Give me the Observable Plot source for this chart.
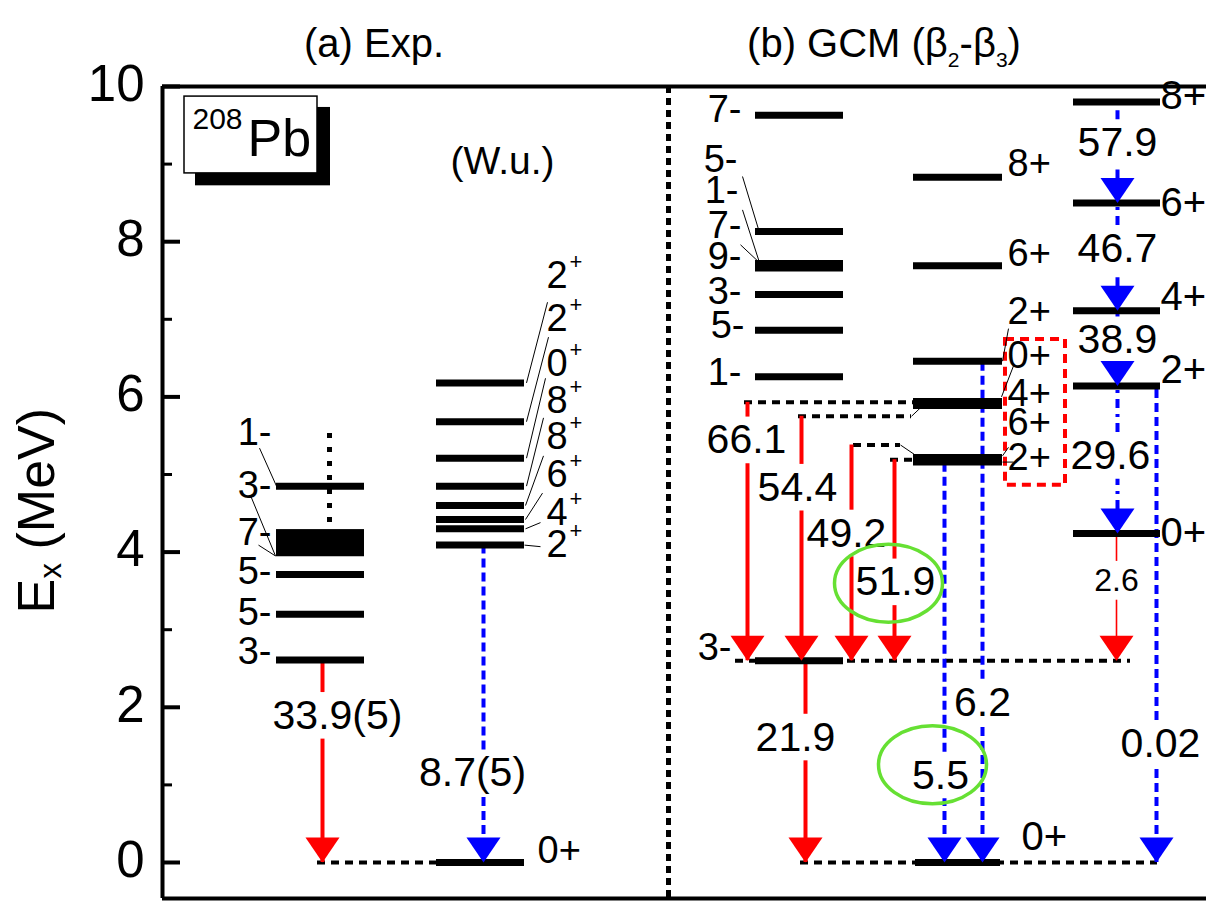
<!DOCTYPE html>
<html><head><meta charset="utf-8">
<script src="https://cdn.jsdelivr.net/npm/d3@7"></script>
<script src="https://cdn.jsdelivr.net/npm/@observablehq/plot@0.6"></script>
<style>
body{margin:0;background:#fff;font-family:"Liberation Sans",Arial,sans-serif;}
#head{position:relative;width:1206px;height:60px;}
.t{position:absolute;top:23px;font-size:40px;line-height:40px;white-space:nowrap;transform:translateX(-50%);color:#000;}
.t sub{font-size:21px;vertical-align:-10px;line-height:0;}
</style></head><body>
<div id="head">
<div class="t" style="left:374px">(a) Exp.</div>
<div class="t" style="left:884px">(b) GCM (β<sub>2</sub>-β<sub>3</sub>)</div>
</div>
<div id="chart"></div>
<script>
// ---------- data ----------
const yMajor = [0, 2, 4, 6, 8, 10];
const yMinor = [1, 3, 5, 7, 9];

// (a) Exp. : negative-parity column
const expNegE = [4.85, 3.71, 3.20, 2.61];
const expNegBand = [[3.94, 4.29]];
const expNegJ = ["1-", "3-", "7-", "5-", "5-", "3-"];
// (a) Exp. : positive-parity column
const expPosE = [6.18, 5.68, 5.21, 4.85, 4.60, 4.42, 4.30, 4.09];
const expPosJ = ["2", "2", "0", "8", "8", "6", "4", "2"];
const expGroundE = [0];
const expGroundJ = ["0+"];

// (b) GCM
const gcmNegE = [9.63, 8.13, 7.72, 7.66, 7.32, 6.86, 6.26, 2.60];
const gcmNegJ = ["7-", "5-", "1-", "7-", "9-", "3-", "5-", "1-", "3-"];
const gcmMidE = [8.83, 7.69, 6.46, 5.94, 5.89, 5.22, 5.16];
const gcmMidJ = ["8+", "6+", "2+", "0+", "4+", "6+", "2+"];
const gcmRightE = [9.80, 8.50, 7.11, 6.14, 4.24];
const gcmRightJ = ["8+", "6+", "4+", "2+", "0+"];
const gcmGroundE = [0];
const gcmGroundJ = ["0+"];

// transitions (B(E3) / B(E2) in W.u.)
const trFrom  = [2.61, 4.09, 5.93, 5.75, 5.38, 5.19, 2.60, 4.24, 5.19, 6.46, 6.14, 9.80, 8.50, 7.11, 6.14];
const trTo    = [0, 0, 2.60, 2.60, 2.60, 2.60, 0, 2.60, 0, 0, 0, 8.50, 7.11, 6.14, 4.24];
const trValue = ["33.9(5)", "8.7(5)", "66.1", "54.4", "49.2", "51.9", "21.9", "2.6", "5.5", "6.2", "0.02", "57.9", "46.7", "38.9", "29.6"];
const trStyle = ["E3", "E2", "E3", "E3", "E3", "E3", "E3", "E3thin", "E2", "E2", "E2", "E2dd", "E2dd", "E2dd", "E2dd"];

// ---------- layout ----------
const Y_MIN = -0.464, Y_MAX = 10;
const AXIS_X = 162, RIGHT_X = 1206, DIVIDER_X = 668;
const col = {
  expNeg: [276, 364], expPos: [436, 524],
  gcmNeg: [755, 843], gcmMid: [913, 1002], gcmRight: [1073, 1160], gcmGround: [915, 1000]
};
const expNegLabelE = [5.54, 4.86, 4.25, 3.75, 3.22, 2.72];
const expPosLabelE = [7.56, 7.01, 6.43, 5.95, 5.48, 4.99, 4.50, 4.09];
const gcmNegLabelE = [9.70, 9.05, 8.66, 8.21, 7.80, 7.36, 6.91, 6.31, 2.77];
const gcmNegLabelX = [741, 737, 738, 741, 741, 741, 744, 741, 731];
const gcmMidLabelE = [9.0, 7.85, 7.09, 6.53, 6.04, 5.66, 5.21];
const gcmRightLabelE = [9.87, 8.49, 7.28, 6.35, 4.24];
const trX  = [322, 483, 747, 801, 851, 894, 805, 1116, 944, 982, 1156, 1117, 1117, 1117, 1117];
const trLX = [337, 472, 746, 797, 846, 895, 795, 1116, 940, 982, 1160, 1117, 1117, 1117, 1110];
const trLE = [1.89, 1.15, 5.44, 4.83, 4.24, 3.61, 1.61, 3.63, 1.12, 2.06, 1.53, 9.27, 7.91, 6.73, 5.24];
const dashH = [
  {e: 0, x1: 317, x2: 437}, {e: 2.60, x1: 735, x2: 1130}, {e: 0, x1: 800, x2: 1157},
  {e: 5.93, x1: 744, x2: 913}, {e: 5.75, x1: 798, x2: 911}, {e: 5.38, x1: 853, x2: 900},
  {e: 5.19, x1: 890, x2: 913}
];
const leaders = [
  [259, 5.34, 276, 4.85], [250, 4.73, 275, 3.95], [258, 4.09, 275, 3.95],
  [526, 6.18, 547, 7.22], [526, 5.68, 548, 6.77], [526, 5.21, 545, 6.24], [526, 4.85, 543, 5.73],
  [525, 4.60, 543, 5.24], [525, 4.42, 542, 4.76], [525, 4.30, 540, 4.38], [524, 4.09, 540, 4.07],
  [742, 8.84, 758, 8.16], [742, 8.41, 759, 7.73], [740, 7.96, 759, 7.73],
  [1008, 6.88, 1002, 6.46], [1013, 6.40, 1001, 6.00], [1008, 5.35, 1002, 5.24], [1002, 5.16, 1013, 5.16],
  [911, 5.75, 920, 5.86], [900, 5.38, 916, 5.24]
];
const redBox = [{x1: 1005, x2: 1065, y1: 4.86, y2: 6.74}];
const circles = [{x: 888, e: 3.60}, {x: 932, e: 1.26}];

const styles = {
  E3: {stroke: "#ff0000", strokeWidth: 4},
  E3thin: {stroke: "#ff0000", strokeWidth: 1.6},
  E2: {stroke: "#0000ff", strokeWidth: 4, strokeDasharray: "9,5"},
  E2dd: {stroke: "#0000ff", strokeWidth: 4, strokeDasharray: "9,6,3,6"}
};

// ---------- derived ----------
const trIdx = d3.range(trValue.length);
const segs = [];
for (const i of trIdx) {
  const gap = trStyle[i] === "E3thin" ? 0.25 : 0.3;
  const top = trLE[i] + gap, bot = trLE[i] - gap;
  if (trFrom[i] > top) segs.push({x: trX[i], y1: top, y2: trFrom[i], s: trStyle[i]});
  if (bot > trTo[i]) segs.push({x: trX[i], y1: trTo[i], y2: bot, s: trStyle[i]});
}
const arrowSym = {draw(ctx) { ctx.moveTo(-17, -25); ctx.lineTo(17, -25); ctx.lineTo(0, 0); ctx.closePath(); }};
const ellipseSym = {draw(ctx) {
  const rx = 54, ry = 39, k = 0.5523;
  ctx.moveTo(rx, 0);
  ctx.bezierCurveTo(rx, ry * k, rx * k, ry, 0, ry);
  ctx.bezierCurveTo(-rx * k, ry, -rx, ry * k, -rx, 0);
  ctx.bezierCurveTo(-rx, -ry * k, -rx * k, -ry, 0, -ry);
  ctx.bezierCurveTo(rx * k, -ry, rx, -ry * k, rx, 0);
  ctx.closePath();
}};
const levelRule = (E, c, w = 7) => Plot.ruleY(E, {y: d => d, x1: () => c[0], x2: () => c[1], stroke: "black", strokeWidth: w});
const FS = 38, TS = 41;

const chart = Plot.plot({
  width: 1206, height: 841,
  marginLeft: AXIS_X, marginRight: 0, marginTop: 26, marginBottom: 3,
  x: {domain: [AXIS_X, RIGHT_X], axis: null},
  y: {domain: [Y_MIN, Y_MAX], axis: null},
  color: {type: "identity"},
  style: {fontFamily: "'Liberation Sans', Arial, sans-serif", fontSize: "38px", background: "white", overflow: "visible"},
  marks: [
    Plot.ruleY(dashH, {y: "e", x1: "x1", x2: "x2", stroke: "black", strokeWidth: 4, strokeDasharray: "8,6"}),
    Plot.ruleX([DIVIDER_X], {stroke: "black", strokeWidth: 5, strokeDasharray: "7,5"}),
    Plot.ruleX([329], {y1: () => 4.38, y2: () => 5.53, stroke: "black", strokeWidth: 5, strokeDasharray: "5,9"}),
    Plot.rect(redBox, {x1: "x1", x2: "x2", y1: "y1", y2: "y2", fill: "none", stroke: "#ff0000", strokeWidth: 4, strokeDasharray: "9,6"}),
    ...Object.keys(styles).map(k => Plot.ruleX(segs.filter(s => s.s === k), {x: "x", y1: "y1", y2: "y2", ...styles[k]})),
    levelRule(expNegE, col.expNeg),
    Plot.rect(expNegBand, {x1: () => col.expNeg[0], x2: () => col.expNeg[1], y1: d => d[0], y2: d => d[1], fill: "black"}),
    levelRule(expPosE, col.expPos),
    levelRule(expGroundE, col.expPos),
    levelRule(gcmNegE, col.gcmNeg),
    levelRule(gcmMidE, col.gcmMid),
    levelRule(gcmRightE, col.gcmRight),
    levelRule(gcmGroundE, col.gcmGround),
    Plot.dot(trIdx, {x: i => trX[i], y: i => trTo[i], symbol: arrowSym, fill: i => styles[trStyle[i]].stroke, stroke: "none"}),
    Plot.link(leaders, {x1: d => d[0], y1: d => d[1], x2: d => d[2], y2: d => d[3], stroke: "black", strokeWidth: 1}),
    Plot.text(expNegJ, {x: () => 271, y: (d, i) => expNegLabelE[i], text: d => d, textAnchor: "end", fontSize: FS}),
    Plot.text(expPosJ, {x: () => 546, y: (d, i) => expPosLabelE[i], text: d => d, textAnchor: "start", fontSize: FS}),
    Plot.text(expPosJ, {x: () => 546, y: (d, i) => expPosLabelE[i], text: () => "+", textAnchor: "start", fontSize: 22, dx: 23, dy: -14}),
    Plot.text(expGroundJ, {x: () => 537, y: () => 0.15, text: d => d, textAnchor: "start", fontSize: FS}),
    Plot.text(gcmNegJ, {x: (d, i) => gcmNegLabelX[i], y: (d, i) => gcmNegLabelE[i], text: d => d, textAnchor: "end", fontSize: FS}),
    Plot.text(gcmMidJ, {x: () => 1007, y: (d, i) => gcmMidLabelE[i], text: d => d, textAnchor: "start", fontSize: FS}),
    Plot.text(gcmRightJ, {x: () => 1160, y: (d, i) => gcmRightLabelE[i], text: d => d, textAnchor: "start", fontSize: 40}),
    Plot.text(gcmGroundJ, {x: () => 1021, y: () => 0.33, text: d => d, textAnchor: "start", fontSize: 40}),
    Plot.text(trIdx.filter(i => trStyle[i] !== "E3thin"), {x: i => trLX[i], y: i => trLE[i], text: i => trValue[i], fontSize: TS}),
    Plot.text(trIdx.filter(i => trStyle[i] === "E3thin"), {x: i => trLX[i], y: i => trLE[i], text: i => trValue[i], fontSize: 32}),
    Plot.dot(circles, {x: "x", y: "e", symbol: ellipseSym, fill: "none", stroke: "#66e033", strokeWidth: 3.5}),
    Plot.rect([0], {x1: () => 195, x2: () => 330, y1: () => 8.72, y2: () => 9.73, fill: "black"}),
    Plot.rect([0], {x1: () => 184, x2: () => 317, y1: () => 8.88, y2: () => 9.87, fill: "white", stroke: "black", strokeWidth: 1.5}),
    Plot.text(["208"], {x: () => 192, y: () => 9.57, text: d => d, textAnchor: "start", fontSize: 30}),
    Plot.text(["Pb"], {x: () => 247, y: () => 9.32, text: d => d, textAnchor: "start", fontSize: 52}),
    Plot.text(["(W.u.)"], {x: () => 502, y: () => 9.03, text: d => d, fontSize: 39}),
    Plot.ruleX([AXIS_X], {stroke: "black", strokeWidth: 4}),
    Plot.ruleY([Y_MAX, Y_MIN], {stroke: "black", strokeWidth: 4}),
    Plot.ruleY(yMajor, {y: d => d, x1: () => AXIS_X, x2: () => AXIS_X + 18, stroke: "black", strokeWidth: 4}),
    Plot.ruleY(yMinor, {y: d => d, x1: () => AXIS_X, x2: () => AXIS_X + 10, stroke: "black", strokeWidth: 3}),
    Plot.text(yMajor, {frameAnchor: "left", y: d => d, text: d => String(d), textAnchor: "end", dx: -18, dy: -2, fontSize: 51}),
    Plot.text(["E"], {frameAnchor: "left", text: d => d, rotate: -90, textAnchor: "start", dx: -125, dy: 121, fontSize: 52}),
    Plot.text(["x"], {frameAnchor: "left", text: d => d, rotate: -90, textAnchor: "start", dx: -111, dy: 86, fontSize: 31}),
    Plot.text(["(MeV)"], {frameAnchor: "left", text: d => d, rotate: -90, textAnchor: "start", dx: -125, dy: 57, fontSize: 52})
  ]
});
document.getElementById("chart").appendChild(chart);
</script>
</body></html>
